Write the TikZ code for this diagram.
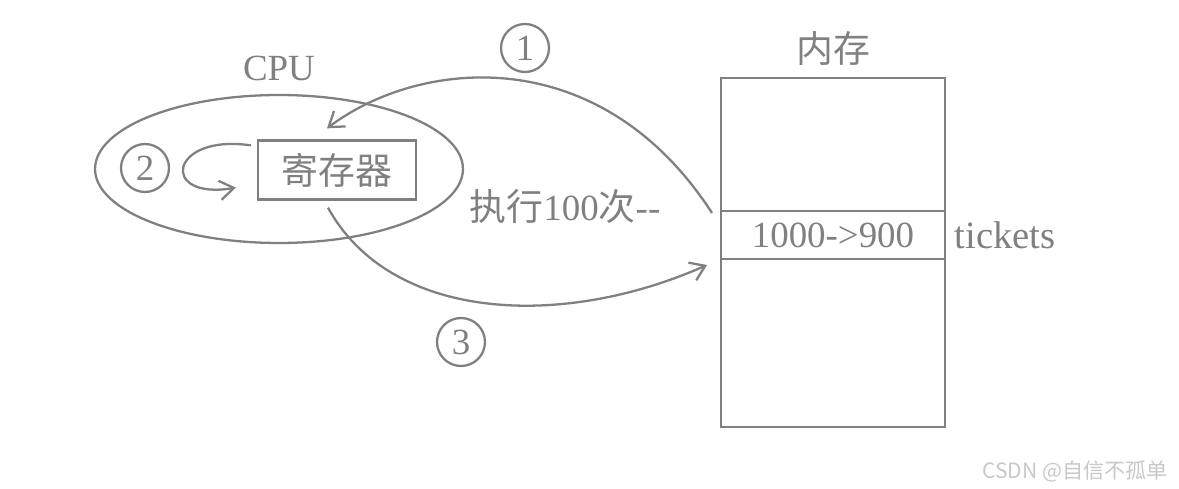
\documentclass[tikz,border=0pt]{standalone}
\usepackage{fontspec}
\setmainfont{Liberation Serif}
\newfontfamily\cjk{Noto Sans CJK SC}
\usetikzlibrary{positioning,shapes.geometric,arrows.meta}
\definecolor{linegray}{RGB}{128,128,128}
\definecolor{wmgray}{RGB}{200,200,200}
\tikzset{
	gline/.style={draw=linegray, line width=1.3pt},
	num/.style={gline, circle, minimum size=0.96cm, inner sep=0pt},
	cell/.style={gline, rectangle, minimum width=4.48cm, inner sep=0pt, outer sep=0pt},
	barb/.style={-{Straight Barb[length=8pt,width=11pt]}},
}

\begin{document}
\begin{tikzpicture}[x=0.02cm, y=-0.02cm, text=linegray, font=\fontsize{21}{25}\selectfont]
			\useasboundingbox (0,0) rectangle (1179,489);
			
			% CPU side
			\node[gline, ellipse, minimum width=7.36cm, minimum height=2.96cm] (cpu) at (279,169) {};
			\node[above=4pt of cpu] (cpulbl) {CPU};
			\node[gline, rectangle, minimum width=3.16cm, minimum height=1.18cm] (reg) at (337,170) {\cjk 寄存器};
			\node[num] (n2) at (145,168) {2};
			
			% memory
			\node[cell, minimum height=0.96cm] (tick) at (833,235) {1000->900};
			\node[cell, minimum height=2.66cm, above=0pt of tick] (memtop) {};
			\node[cell, minimum height=3.36cm, below=0pt of tick] (membot) {};
			\node[above=0.12cm of memtop] (memlbl) {\cjk 内存};
			\node[right=2pt of tick, font=\fontsize{22}{26}\selectfont] (ticklbl) {tickets};
			
			% steps
			\node[num] (n1) at (525,48) {1};
			\node[num] (n3) at (461,342) {3};
			\node (loop) at (565,207) {{\cjk 执行}100{\cjk 次}-{}-};
			
			\coordinate (a1s) at ([shift={(-9,2)}]tick.north west);
			\coordinate (a1e) at ([shift={(-10,-11)}]reg.north);
			\coordinate (a3s) at ([shift={(-9,7)}]reg.south);
			\coordinate (a3e) at ([shift={(-14,6)}]tick.south west);
			\coordinate (l2s) at ([shift={(-6,6)}]reg.north west);
			\coordinate (l2e) at ([shift={(-21,-13)}]reg.south west);
			
			\draw[gline, barb] (a1s) .. controls +(-112,-173) and +(93,-70) .. (a1e);
			\draw[gline, barb] (a3s) .. controls +(62,113) and +(-147,65) .. (a3e);
			\draw[gline, barb] (l2s) .. controls +(-82,-12) and +(-77,13) .. (l2e);
			
			\node[text=wmgray, font=\cjk\fontsize{12}{14}\selectfont] (wm) at (1075,471) {CSDN @自信不孤单};
		\end{tikzpicture}
\end{document}
